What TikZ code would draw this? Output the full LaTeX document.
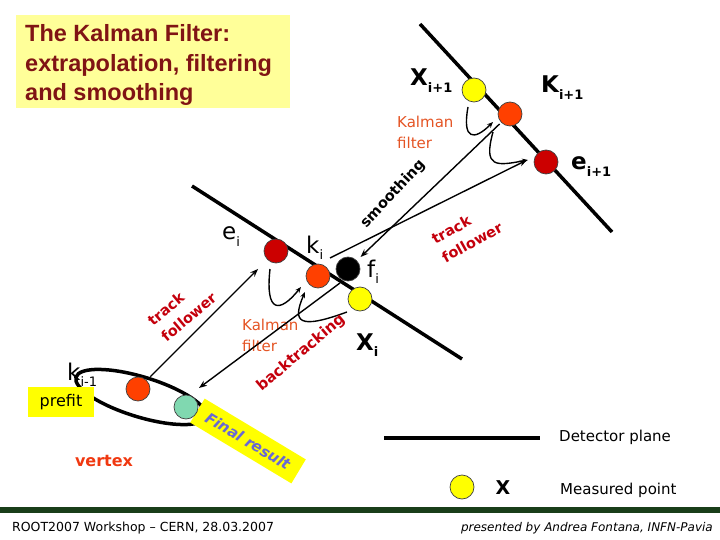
\documentclass[tikz,border=0pt]{standalone}
\usepackage{fontspec}
\setmainfont{DejaVu Sans}
\newfontfamily\titlefont{Liberation Sans}
\usetikzlibrary{arrows.meta}
\definecolor{titlebg}{RGB}{255,255,153}
\definecolor{titlefg}{RGB}{128,20,20}
\definecolor{hyellow}{RGB}{255,255,0}
\definecolor{corange}{RGB}{255,64,0}
\definecolor{cred}{RGB}{204,0,0}
\definecolor{cgreen}{RGB}{128,216,176}
\definecolor{kalcol}{RGB}{228,84,36}
\definecolor{tfcol}{RGB}{196,0,12}
\definecolor{vertcol}{RGB}{240,56,16}
\definecolor{finalcol}{RGB}{104,104,212}
\definecolor{footgreen}{RGB}{25,62,25}
\newcommand\sbs[1]{\raisebox{-0.28em}{\fontsize{13}{13}\selectfont #1}}
\begin{document}
\begin{tikzpicture}[x=1pt,y=-1pt,
  plane/.style={line width=3.5pt},
  dot/.style={circle,draw=black!75,line width=0.7pt,minimum size=24pt,inner sep=0pt},
  arr/.style={line width=1.4pt,-{Stealth[length=8pt,width=6pt]}},
  carr/.style={line width=1.4pt,-{Stealth[length=6pt,width=5pt]}},
  lbl/.style={font=\fontsize{23}{23}\selectfont,inner sep=0pt,anchor=base west},
  blbl/.style={font=\bfseries\fontsize{23}{23}\selectfont,inner sep=0pt,anchor=base west},
  kal/.style={font=\fontsize{15}{21}\selectfont,text=kalcol,align=left,inner sep=0pt,anchor=north west},
  rtxt/.style={font=\bfseries\fontsize{14.5}{21}\selectfont,inner sep=0pt},
  ttl/.style={font=\titlefont\bfseries\fontsize{23.5}{23.5}\selectfont,text=titlefg,inner sep=0pt,anchor=base west},
  legtxt/.style={font=\fontsize{15}{15}\selectfont,inner sep=0pt,anchor=base west}
]
\useasboundingbox (0,0) rectangle (720,540);

% title
\node[fill=titlebg,minimum width=274pt,minimum height=93pt,anchor=north west,inner sep=0pt] (tbox) at (16,15) {};
\node[ttl] (t1) at (25,41.7) {The Kalman Filter:};
\node[ttl] (t2) at (25,71.3) {extrapolation, filtering};
\node[ttl] (t3) at (25,100.5) {and smoothing};

% detector planes
\coordinate (pA1) at (420,24);
\coordinate (pA2) at (612,232);
\coordinate (pB1) at (192,186);
\coordinate (pB2) at (462,359);
\draw[plane] (pA1) -- (pA2);
\draw[plane] (pB1) -- (pB2);

% ellipse (prefit region)
\draw[line width=3.5pt,rotate around={-17:(141,397)}] (141,397) ellipse [x radius=68, y radius=20];

% final result box
\node[fill=hyellow,rotate=-31,minimum width=118pt,minimum height=28pt,inner sep=0pt,
      font=\bfseries\itshape\fontsize{15}{15}\selectfont,text=finalcol] (final) at (248,441) {Final result};

% points
\node[dot,fill=hyellow] (Xi1) at (474,90) {};
\node[dot,fill=corange] (Ki1) at (510,114) {};
\node[dot,fill=cred] (ei1) at (546,162) {};
\node[dot,fill=cred] (ei) at (276,251) {};
\node[dot,fill=corange] (ki) at (318,276) {};
\node[dot,fill=black] (fi) at (348,269) {};
\node[dot,fill=hyellow] (Xi) at (360,299) {};
\node[dot,fill=corange] (kim) at (138,389) {};
\node[dot,fill=cgreen] (fin) at (186,407) {};

% labels
\node[blbl] (lXi1) at (410,86) {X\sbs{i+1}};
\node[blbl] (lKi1) at (541,93) {K\sbs{i+1}};
\node[blbl] (lei1) at (571,170) {e\sbs{i+1}};
\node[lbl] (lei) at (222,240) {e\sbs{i}};
\node[lbl] (lki) at (306,253) {k\sbs{i}};
\node[lbl] (lfi) at (367,277) {f\sbs{i}};
\node[blbl] (lXi) at (356,350) {X\sbs{i}};
\node[lbl] (lkim) at (67,380) {k\sbs{i-1}};

% Kalman filter texts
\node[kal] (kalA) at (397,116) {Kalman\\filter};
\node[kal] (kalB) at (242,319) {Kalman\\filter};

% arrows
\coordinate (tfS) at (330,258);
\coordinate (tfE) at (527,160);
\coordinate (btS) at (340,283);
\coordinate (btE) at (199,388);
\draw[arr,shorten <=2pt,shorten >=5pt] (Ki1) -- (fi);
\draw[arr] (tfS) -- (tfE);
\draw[arr,shorten <=5pt,shorten >=13pt] (kim) -- (ei);
\draw[arr] (btS) -- (btE);

% Kalman filter curved arrows
\coordinate (c1s) at (468,107); \coordinate (c1e) at (493,122);
\coordinate (c2s) at (493,132); \coordinate (c2e) at (528,160);
\coordinate (c3s) at (270,269); \coordinate (c3e) at (301,287);
\coordinate (c4s) at (347,312); \coordinate (c4e) at (305,292);
\draw[carr] (c1s) .. controls (462,140) and (474,141) .. (c1e);
\draw[carr] (c2s) .. controls (483,168) and (496,166) .. (c2e);
\draw[carr] (c3s) .. controls (265,314) and (280,313) .. (c3e);
\draw[carr] (c4s) .. controls (298,330) and (292,322) .. (c4e);

% rotated texts
\node[rtxt,rotate=47] (smooth) at (393,194) {smoothing};
\node[rtxt,rotate=29,align=left,text=tfcol] (tfA) at (467,233) {track\\follower};
\node[rtxt,rotate=40,align=left,text=tfcol] (tfB) at (182,309) {track\\follower};
\node[rtxt,rotate=40,text=tfcol,font=\bfseries\fontsize{15}{15}\selectfont] (back) at (301,353) {backtracking};

% prefit / vertex
\node[fill=hyellow,minimum width=66pt,minimum height=30pt,inner sep=0pt,font=\fontsize{16}{16}\selectfont] (prefit) at (61,402) {prefit};
\node[font=\bfseries\fontsize{16}{16}\selectfont,text=vertcol,inner sep=0pt] (vertex) at (104,461) {vertex};

% legend
\coordinate (lg1) at (384,438);
\coordinate (lg2) at (540,438);
\draw[plane] (lg1) -- (lg2);
\node[legtxt] (ldet) at (559,441) {Detector plane};
\node[dot,fill=hyellow] (lgdot) at (462,487) {};
\node[font=\bfseries\fontsize{19}{19}\selectfont,inner sep=0pt] (lgx) at (503,488) {X};
\node[legtxt] (lmeas) at (560,494) {Measured point};

% footer
\coordinate (f1) at (0,510);
\coordinate (f2) at (720,510);
\draw[line width=6pt,footgreen] (f1) -- (f2);
\node[font=\fontsize{12.5}{12.5}\selectfont,inner sep=0pt,anchor=base west] (foot1) at (12,531) {ROOT2007 Workshop – CERN, 28.03.2007};
\node[font=\itshape\fontsize{12}{12}\selectfont,inner sep=0pt,anchor=base east] (foot2) at (713,531) {presented by Andrea Fontana, INFN-Pavia};
\end{tikzpicture}
\end{document}
